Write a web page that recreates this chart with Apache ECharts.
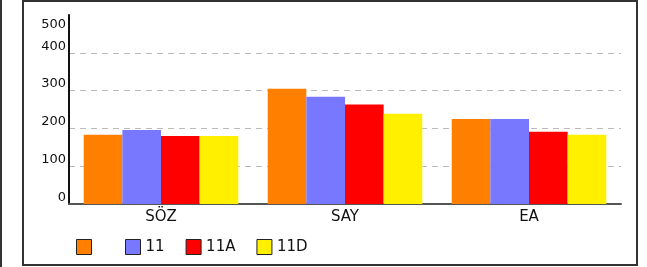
<!DOCTYPE html>
<html>
<head>
<meta charset="utf-8">
<script src="https://cdn.jsdelivr.net/npm/echarts@6/dist/echarts.min.js"></script>
<style>
  html, body { margin: 0; padding: 0; background: #fff; }
  #wrap { position: relative; width: 647px; height: 267px; overflow: hidden; }
  #side { position: absolute; left: 0; top: 0; width: 2px; height: 267px; background: #333; }
  #frame { position: absolute; left: 22px; top: 0; width: 612px; height: 262px; border: 2px solid #333; }
  #main { position: absolute; left: 0; top: 0; width: 647px; height: 267px; }
</style>
</head>
<body>
<div id="wrap">
  <div id="side"></div>
  <div id="frame"></div>
  <div id="main"></div>
</div>
<script>
// kategoriler ve seriler
var categories = ['SÖZ', 'SAY', 'EA']
var seriesNames = ['\u2002', '11', '11A', '11D']
var seriesColors = ['#ff8000', '#7878ff', '#ff0000', '#fff000']
var values = [
  [183, 305, 225],
  [196, 284, 225],
  [180, 263, 191],
  [180, 239, 183],
]
var yTicks = [0, 100, 200, 300, 400, 500]

var chart = echarts.init(document.getElementById('main'))

var series = seriesNames.map(function (name, i) {
  return {
    name: name,
    type: 'bar',
    data: values[i],
    barGap: '0%',
    barCategoryGap: '16%',
    itemStyle: { color: seriesColors[i] },
    animation: false,
  }
})

var option = {
  textStyle: { fontFamily: 'DejaVu Sans' },
  grid: { left: 69, right: 26, top: 15, bottom: 63 },
  legend: {
    data: seriesNames,
    left: 71,
    top: 234,
    itemWidth: 15,
    itemHeight: 15,
    itemGap: 21,
    icon: 'rect',
    itemStyle: { borderColor: '#222', borderWidth: 1 },
    textStyle: { fontSize: 15, color: '#111', fontFamily: 'DejaVu Sans' },
  },
  xAxis: {
    type: 'category',
    data: categories,
    axisLine: { lineStyle: { color: '#555', width: 2 } },
    axisTick: { show: false },
    axisLabel: { fontSize: 15, color: '#111', margin: 6 },
  },
  yAxis: [
    {
      type: 'value',
      min: yTicks[0],
      max: yTicks[yTicks.length - 1],
      interval: 100,
      axisLine: { show: true, lineStyle: { color: '#111', width: 2 } },
      axisTick: { show: false },
      axisLabel: {
        fontSize: 13,
        color: '#111',
        margin: 3,
        verticalAlign: 'bottom',
        showMaxLabel: false,
      },
      splitLine: {
        show: true,
        lineStyle: {
          type: [6, 5],
          width: 1,
          color: ['#bbb', '#bbb', '#bbb', '#bbb', '#bbb', 'rgba(0,0,0,0)'],
        },
      },
    },
    {
      // sadece üst etiket (500)
      type: 'value',
      position: 'left',
      min: yTicks[0],
      max: yTicks[yTicks.length - 1],
      interval: 100,
      axisLine: { show: false },
      axisTick: { show: false },
      splitLine: { show: false },
      axisLabel: {
        fontSize: 13,
        color: '#111',
        margin: 3,
        verticalAlign: 'top',
        padding: [3, 0, 0, 0],
        formatter: function (v) { return v === yTicks[yTicks.length - 1] ? String(v) : '' },
      },
    },
  ],
  series: series,
}
chart.setOption(option)
</script>
</body>
</html>
